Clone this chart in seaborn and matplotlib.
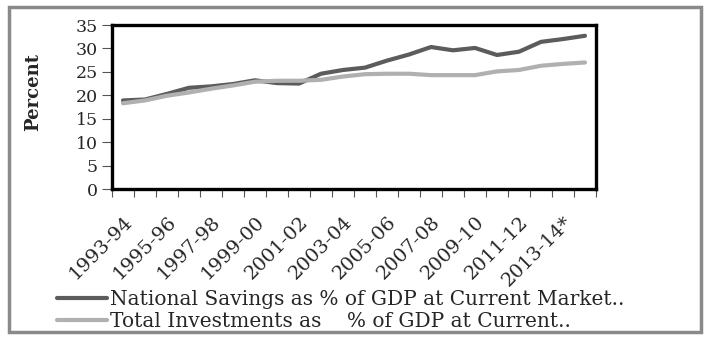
import numpy as np
import pandas as pd
import seaborn as sns
import matplotlib.pyplot as plt
from matplotlib.patches import Rectangle

# data
years = ['1993-94', '1994-95', '1995-96', '1996-97', '1997-98', '1998-99',
         '1999-00', '2000-01', '2001-02', '2002-03', '2003-04', '2004-05',
         '2005-06', '2006-07', '2007-08', '2008-09', '2009-10', '2010-11',
         '2011-12', '2012-13', '2013-14*', '2014-15']
savings = [18.9, 19.1, 20.3, 21.6, 21.9, 22.4, 23.2, 22.6, 22.5, 24.6, 25.4,
           25.9, 27.4, 28.7, 30.3, 29.6, 30.1, 28.6, 29.3, 31.4, 32.0, 32.7]
investments = [18.3, 18.9, 19.9, 20.6, 21.4, 22.1, 22.9, 23.1, 23.1, 23.3, 24.0,
               24.5, 24.6, 24.6, 24.3, 24.3, 24.3, 25.1, 25.4, 26.3, 26.7, 27.0]
series_names = ['National Savings as % of GDP at Current Market..',
                'Total Investments as    % of GDP at Current..']
colors = ['#5c5c5c', '#b0b0b0']

df = pd.DataFrame({
    'idx': list(range(len(years))) * 2,
    'value': savings + investments,
    'series': [series_names[0]] * len(years) + [series_names[1]] * len(years),
})

sns.set_style('white')
plt.rcParams['font.family'] = ['DejaVu Serif']

fig, ax = plt.subplots(figsize=(7.08, 3.42), dpi=100)
fig.subplots_adjust(left=112/708, right=596/708, top=1-25/342, bottom=1-189/342)

sns.lineplot(data=df, x='idx', y='value', hue='series', palette=colors,
             linewidth=3, ax=ax, legend=False)

ax.set_xlim(-0.5, len(years) - 0.5)
ax.set_ylim(0, 35)
ax.set_yticks(np.arange(0, 36, 5))
ax.tick_params(axis='y', labelsize=12.5, length=7, width=0.8, pad=3,
               left=True, color='#555555')
# tick marks between categories, labels under every second category
ax.set_xticks(np.arange(-0.5, len(years), 1))
ax.set_xticklabels([])
ax.tick_params(axis='x', which='major', length=6, width=0.8, bottom=True,
               color='#555555')
ax.set_xticks(np.arange(0, len(years) - 1, 2), minor=True)
ax.set_xticklabels(years[0:len(years) - 1:2], minor=True, rotation=45,
                   ha='right', va='top', rotation_mode='anchor', fontsize=14)
ax.tick_params(axis='x', which='minor', length=0, pad=17)

for s in ax.spines.values():
    s.set_linewidth(2.4)
    s.set_color('black')

ax.set_xlabel('')
ax.set_ylabel('Percent', fontsize=13, fontweight='bold')
ax.yaxis.set_label_coords(-0.145, 0.59)

handles = [plt.Line2D([], [], color=c, linewidth=3) for c in colors]
fig.legend(handles, series_names, loc='upper left',
           bbox_to_anchor=(57/708, 1-290/342), frameon=False, fontsize=14.5,
           handlelength=2.5, handletextpad=0.12, labelspacing=0.15,
           borderaxespad=0, borderpad=0)

fig.patches.append(Rectangle((9/708, 1-332/342), 692/708, 325/342,
                             transform=fig.transFigure, fill=False,
                             edgecolor='#8a8a8a', linewidth=2.5))

plt.savefig('out.png', dpi=100)
